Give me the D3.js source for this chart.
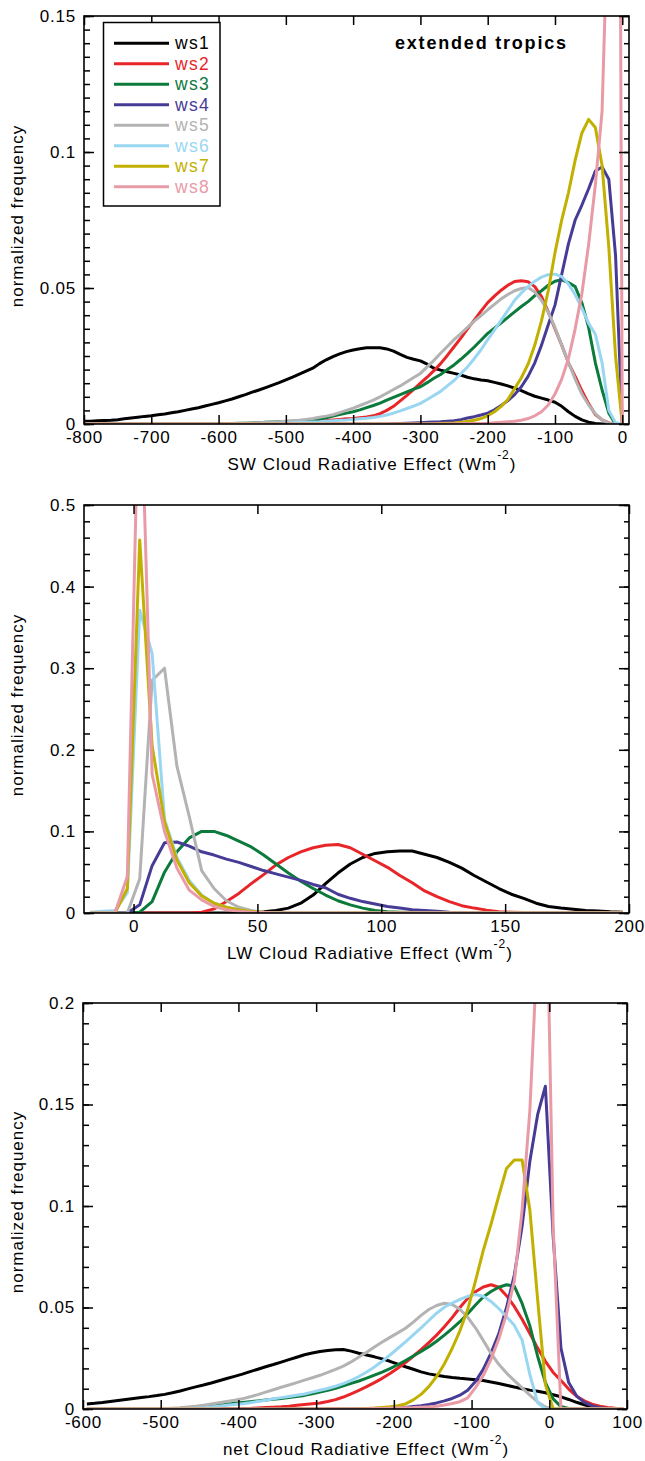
<!DOCTYPE html>
<html>
<head>
<meta charset="UTF-8">
<title>Cloud radiative effect</title>
<script src="https://cdn.jsdelivr.net/npm/d3@7"></script>
<style>
body{margin:0;background:#fff;}
svg text{font-family:"Liberation Sans",Arial,Helvetica,sans-serif;}
</style>
</head>
<body>
<script>
var width=645, height=1461;

var names=["ws1","ws2","ws3","ws4","ws5","ws6","ws7","ws8"];
var colors=["#000000","#e8262a","#0b7a3b","#463c96","#b3b3b3","#99d6f1","#c2b000","#e99aa7"];

// bin centres of each histogram
var swBins=d3.range(-800,1,10);      // -800 .. 0
var lwBins=d3.range(-17.5,200,5);    // -17.5 .. 197.5
var netBins=d3.range(-595,100,10);   // -595 .. 95

var swTicks=[-800,-700,-600,-500,-400,-300,-200,-100,0];
var lwTicks=[0,50,100,150,200];
var netTicks=[-600,-500,-400,-300,-200,-100,0,100];
var swFreqTicks=[0,0.05,0.1,0.15];
var lwFreqTicks=[0,0.1,0.2,0.3,0.4,0.5];
var netFreqTicks=[0,0.05,0.1,0.15,0.2];

// SW cloud radiative effect, one value per 10 Wm-2 bin from -800 to 0
var swWs1=[0.001,0.001,0.0012,0.0013,0.0014,0.0016,0.0019,0.0022,0.0025,0.0028,
0.003,0.0034,0.0037,0.0041,0.0045,0.005,0.0055,0.006,0.0066,0.0072,
0.0078,0.0085,0.0092,0.01,0.0108,0.0117,0.0125,0.0134,0.0143,0.0152,
0.0162,0.0172,0.0183,0.0194,0.0205,0.0222,0.0236,0.0248,0.0258,0.0266,
0.0272,0.0277,0.028,0.028,0.028,0.0276,0.0268,0.0256,0.0245,0.0238,
0.0232,0.022,0.0205,0.0198,0.0192,0.0186,0.018,0.0172,0.0166,0.0162,
0.0159,0.0153,0.0147,0.014,0.0132,0.0123,0.0112,0.0102,0.0095,0.0088,
0.008,0.0065,0.0045,0.0028,0.0015,0.0007,0.0002,0,0,0,
0];
var swWs2=[0,0,0,0,0,0,0,0,0,0,
0,0,0,0,0,0,0,0,0,0,
0,0,0,0,0,0.0002,0.0003,0.0004,0.0004,0.0005,
0.0006,0.0007,0.0008,0.0009,0.001,0.0012,0.0013,0.0015,0.0017,0.0019,
0.002,0.0023,0.0026,0.003,0.0038,0.005,0.0065,0.0085,0.0105,0.0127,
0.015,0.0172,0.0196,0.0222,0.0252,0.0284,0.0316,0.035,0.0382,0.0415,
0.0446,0.047,0.0492,0.051,0.0524,0.0527,0.0523,0.0505,0.0468,0.0412,
0.035,0.029,0.0225,0.0175,0.0122,0.0075,0.0035,0.0015,0.0004,0,
0];
var swWs3=[0,0,0,0,0,0,0,0,0,0,
0,0,0,0,0,0,0,0,0,0,
0,0,0.0002,0.0003,0.0003,0.0004,0.0005,0.0006,0.0007,0.0008,
0.0009,0.001,0.0011,0.0013,0.0015,0.0018,0.0023,0.0029,0.0035,0.004,
0.0045,0.0052,0.006,0.0068,0.0077,0.0088,0.0098,0.0108,0.0118,0.0128,
0.0137,0.0152,0.0168,0.0182,0.02,0.0217,0.0238,0.026,0.0283,0.0308,
0.0333,0.0352,0.0372,0.0392,0.0412,0.0432,0.045,0.0472,0.049,0.051,
0.0525,0.053,0.052,0.0505,0.0445,0.0355,0.0225,0.0125,0.004,0,
0];
var swWs4=[0,0,0,0,0,0,0,0,0,0,
0,0,0,0,0,0,0,0,0,0,
0,0,0,0,0,0,0,0,0,0,
0,0,0,0,0,0,0,0,0,0,
0,0,0,0,0,0,0.0001,0.0002,0.0003,0.0004,
0.0005,0.0006,0.0007,0.0008,0.001,0.0012,0.0016,0.0022,0.0027,0.0033,
0.004,0.0052,0.0068,0.0086,0.0108,0.0137,0.0175,0.0225,0.029,0.0365,
0.0437,0.055,0.0662,0.075,0.0805,0.0865,0.093,0.0945,0.09,0.062,
0];
var swWs5=[0,0,0,0,0,0,0,0,0,0,
0,0,0,0,0,0,0,0,0,0,
0,0,0.0001,0.0002,0.0003,0.0004,0.0005,0.0006,0.0007,0.0008,
0.001,0.0012,0.0014,0.0017,0.002,0.0025,0.0029,0.0034,0.0042,0.005,
0.0058,0.0068,0.0078,0.0088,0.01,0.0113,0.0127,0.014,0.0155,0.0171,
0.0186,0.021,0.0234,0.026,0.0285,0.031,0.0332,0.0355,0.0378,0.0398,
0.042,0.044,0.046,0.0476,0.049,0.0498,0.0502,0.0485,0.0455,0.041,
0.0355,0.029,0.0226,0.0165,0.011,0.007,0.0038,0.0014,0.0003,0,
0];
var swWs6=[0,0,0,0,0,0,0,0,0,0,
0,0,0,0,0,0,0,0,0,0,
0,0,0,0,0,0,0.0001,0.0002,0.0003,0.0003,
0.0004,0.0005,0.0006,0.0006,0.0007,0.0008,0.001,0.0012,0.0014,0.0015,
0.0017,0.0019,0.0021,0.0024,0.0028,0.0033,0.004,0.0048,0.0057,0.0066,
0.0076,0.009,0.0105,0.012,0.014,0.016,0.0185,0.021,0.024,0.0273,
0.031,0.0345,0.0382,0.0418,0.0455,0.0482,0.0505,0.0525,0.054,0.0549,
0.0551,0.0542,0.0515,0.0475,0.0425,0.037,0.033,0.0225,0.005,0.0005,
0];
var swWs7=[0,0,0,0,0,0,0,0,0,0,
0,0,0,0,0,0,0,0,0,0,
0,0,0,0,0,0,0,0,0,0,
0,0,0,0,0,0,0,0,0,0,
0,0,0,0,0,0,0,0,0,0,
0,0,0.0001,0.0002,0.0003,0.0004,0.0006,0.001,0.0014,0.002,
0.003,0.0045,0.0065,0.009,0.013,0.017,0.022,0.029,0.038,0.049,
0.063,0.075,0.085,0.097,0.107,0.112,0.109,0.095,0.065,0.025,
0];
var swWs8=[0,0,0,0,0,0,0,0,0,0,
0,0,0,0,0,0,0,0,0,0,
0,0,0,0,0,0,0,0,0,0,
0,0,0,0,0,0,0,0,0,0,
0,0,0,0,0,0,0,0,0,0,
0,0,0,0,0,0.0001,0.0001,0.0002,0.0002,0.0002,
0.0003,0.0005,0.0006,0.0008,0.001,0.0014,0.002,0.003,0.0045,0.007,
0.011,0.0165,0.024,0.035,0.048,0.066,0.088,0.115,0.2,0.6,
0];

// LW cloud radiative effect, 5 Wm-2 bins centred -17.5 .. 197.5
var lwWs1=[0,0,0,0,0,0,0,0,0,0,
0,0,0.0005,0.001,0.0015,0.003,0.006,0.012,0.022,0.036,
0.049,0.06,0.068,0.073,0.075,0.076,0.076,0.072,0.068,0.062,
0.055,0.046,0.038,0.03,0.023,0.018,0.012,0.008,0.006,0.0045,
0.003,0.0025,0.0015,0.001];
var lwWs2=[0,0,0,0,0,0,0,0,0,0.001,
0.005,0.014,0.024,0.036,0.047,0.059,0.068,0.075,0.08,0.083,
0.084,0.08,0.072,0.064,0.056,0.046,0.037,0.027,0.02,0.014,
0.009,0.006,0.0035,0.0015,0.001,0.0005,0,0,0,0,
0,0,0,0];
var lwWs3=[0,0,0,0,0.001,0.014,0.05,0.075,0.092,0.1,
0.1,0.095,0.088,0.081,0.071,0.06,0.049,0.039,0.03,0.022,
0.015,0.01,0.006,0.003,0.0015,0.001,0.0005,0,0,0,
0,0,0,0,0,0,0,0,0,0,
0,0,0,0];
var lwWs4=[0,0,0,0,0.01,0.058,0.086,0.087,0.082,0.075,
0.071,0.066,0.062,0.057,0.052,0.048,0.044,0.04,0.035,0.031,
0.023,0.018,0.014,0.011,0.008,0.006,0.004,0.003,0.002,0.001,
0.0005,0,0,0,0,0,0,0,0,0,
0,0,0,0];
var lwWs5=[0,0,0,0,0.042,0.285,0.3,0.18,0.118,0.052,
0.03,0.015,0.007,0.003,0.001,0,0,0,0,0,
0,0,0,0,0,0,0,0,0,0,
0,0,0,0,0,0,0,0,0,0,
0,0,0,0];
var lwWs6=[0.001,0.002,0.003,0.025,0.371,0.318,0.115,0.068,0.04,0.022,
0.012,0.007,0.004,0.002,0.001,0.0005,0,0,0,0,
0,0,0,0,0,0,0,0,0,0,
0,0,0,0,0,0,0,0,0,0,
0,0,0,0];
var lwWs7=[0,0,0,0.03,0.457,0.205,0.112,0.065,0.037,0.021,
0.012,0.007,0.004,0.002,0.001,0,0,0,0,0,
0,0,0,0,0,0,0,0,0,0,
0,0,0,0,0,0,0,0,0,0,
0,0,0,0];
var lwWs8=[0,0,0,0.045,0.7,0.17,0.1,0.055,0.028,0.016,
0.008,0.004,0.002,0.001,0.0005,0,0,0,0,0,
0,0,0,0,0,0,0,0,0,0,
0,0,0,0,0,0,0,0,0,0,
0,0,0,0];

// net cloud radiative effect, 10 Wm-2 bins centred -595 .. 95
var netWs1=[0.0025,0.0028,0.0032,0.0037,0.0042,0.0047,0.0052,0.0057,0.0061,0.0066,
0.0072,0.008,0.0089,0.0099,0.0109,0.0118,0.0128,0.0139,0.015,0.0161,
0.0172,0.0184,0.0196,0.0208,0.0219,0.0231,0.0243,0.0255,0.0267,0.0276,
0.0283,0.0288,0.0292,0.0293,0.0285,0.0275,0.0266,0.0257,0.0247,0.0235,
0.0221,0.0208,0.0196,0.0183,0.0173,0.0166,0.016,0.0155,0.0151,0.0148,
0.0144,0.014,0.0133,0.0126,0.0117,0.0108,0.01,0.0093,0.0087,0.008,
0.007,0.006,0.0047,0.0033,0.0021,0.0011,0.0005,0.0002,0.0001,0];
var netWs2=[0,0,0,0,0,0,0,0,0,0,
0,0,0,0,0,0,0,0,0,0,
0.0002,0.0003,0.0005,0.0007,0.0009,0.0011,0.0014,0.0018,0.0022,0.0026,
0.003,0.0037,0.0046,0.0059,0.0075,0.0092,0.011,0.013,0.0151,0.0175,
0.0201,0.0229,0.026,0.0293,0.0327,0.0364,0.0405,0.045,0.05,0.0545,
0.0578,0.0601,0.0612,0.06,0.0558,0.0505,0.0442,0.0372,0.03,0.0235,
0.018,0.014,0.0098,0.0063,0.004,0.0024,0.0014,0.0008,0.0004,0.0002];
var netWs3=[0,0,0,0,0,0,0,0,0,0,
0.0002,0.0003,0.0004,0.0006,0.0008,0.0011,0.0015,0.0019,0.0023,0.0028,
0.0032,0.0036,0.004,0.0044,0.0048,0.0052,0.0056,0.0061,0.0067,0.0075,
0.0084,0.0092,0.0102,0.0114,0.0126,0.0138,0.0152,0.0167,0.0182,0.0199,
0.0218,0.0239,0.0261,0.0283,0.0307,0.0334,0.0364,0.0396,0.043,0.0469,
0.0512,0.0552,0.0579,0.06,0.0612,0.0605,0.052,0.041,0.026,0.013,
0.005,0.0012,0.0003,0,0,0,0,0,0,0];
var netWs4=[0,0,0,0,0,0,0,0,0,0,
0,0,0,0,0,0,0,0,0,0,
0,0,0,0,0,0,0,0,0,0,
0,0,0,0,0,0,0,0.0001,0.0002,0.0003,
0.0005,0.0008,0.0012,0.0016,0.0022,0.003,0.004,0.0052,0.0068,0.0092,
0.0135,0.0195,0.0275,0.037,0.05,0.066,0.09,0.122,0.145,0.159,
0.085,0.03,0.013,0.0065,0.0033,0.0015,0.0006,0.0003,0.0001,0];
var netWs5=[0,0,0,0,0,0,0,0,0,0,
0.0002,0.0004,0.0006,0.001,0.0014,0.0019,0.0025,0.0031,0.0037,0.0043,
0.005,0.006,0.0071,0.0083,0.0095,0.0107,0.0118,0.013,0.0142,0.0154,
0.0166,0.018,0.0195,0.0211,0.0232,0.0256,0.028,0.0305,0.033,0.0353,
0.0375,0.0398,0.0428,0.0461,0.049,0.051,0.0521,0.0515,0.0491,0.0452,
0.04,0.0338,0.0274,0.022,0.0177,0.014,0.0104,0.0068,0.0035,0.001,
0,0,0,0,0,0,0,0,0,0];
var netWs6=[0,0,0,0,0,0,0,0,0,0,
0,0,0.0001,0.0002,0.0004,0.0006,0.001,0.0014,0.0018,0.0022,
0.0026,0.0031,0.0037,0.0043,0.005,0.0056,0.0062,0.0068,0.0074,0.0083,
0.0092,0.0101,0.0112,0.0125,0.0141,0.016,0.0182,0.0207,0.0235,0.0266,
0.0298,0.0331,0.0365,0.04,0.0436,0.0472,0.0501,0.0522,0.054,0.0555,
0.0564,0.0555,0.053,0.0495,0.0455,0.0412,0.034,0.017,0.003,0,
0,0,0,0,0,0,0,0,0,0];
var netWs7=[0,0,0,0,0,0,0,0,0,0,
0,0,0,0,0,0,0,0,0,0,
0,0,0,0,0,0,0,0,0,0,
0,0,0,0,0,0.0001,0.0003,0.0005,0.0008,0.0011,
0.0016,0.0025,0.0045,0.0072,0.011,0.016,0.0222,0.0298,0.0385,0.049,
0.063,0.078,0.091,0.105,0.1185,0.1227,0.1227,0.098,0.054,0.012,
0,0,0,0,0,0,0,0,0,0];
var netWs8=[0,0,0,0,0,0,0,0,0,0,
0,0,0,0,0,0,0,0,0,0,
0,0,0,0,0,0,0,0,0,0,
0,0,0,0,0,0,0.0001,0.0002,0.0003,0.0004,
0.0005,0.0006,0.0007,0.0009,0.0011,0.0014,0.002,0.0027,0.0036,0.0055,
0.0105,0.0165,0.0245,0.0345,0.047,0.063,0.098,0.147,0.23,0.29,
0.09,0,0,0,0,0,0,0,0,0];

var svg=d3.select("body").append("svg")
  .attr("width",width)
  .attr("height",height);

var fmt=function(d){return String(+d.toFixed(3));};

function drawPanel(p){
  var x=d3.scaleLinear().domain(p.xDomain).range([p.left,p.right]);
  var y=d3.scaleLinear().domain(p.yDomain).range([p.bottom,p.top]);

  svg.append("clipPath").attr("id","clip"+p.id)
     .append("rect")
     .attr("x",p.left).attr("y",p.top)
     .attr("width",p.right-p.left).attr("height",p.bottom-p.top);

  var line=d3.line()
    .x(function(d){return x(d[0]);})
    .y(function(d){return y(d[1]);});

  svg.append("g").attr("clip-path","url(#clip"+p.id+")")
     .selectAll("path")
     .data(p.series)
     .enter()
     .append("path")
     .attr("d",function(s){
       return line(p.bins.map(function(b,i){return [b,s[i]];}));
     })
     .attr("fill","none")
     .attr("stroke",function(s,i){return colors[i];})
     .attr("stroke-width",3)
     .attr("stroke-linejoin","round");

  var minor=d3.range(0,p.yDomain[1]+p.yMinor/2,p.yMinor);
  var axes=[
    [d3.axisLeft(y).tickValues(p.yTicks).tickSize(-10).tickPadding(8).tickFormat(fmt),"translate("+p.left+",0)"],
    [d3.axisLeft(y).tickValues(minor).tickSize(-6).tickFormat(""),"translate("+p.left+",0)"],
    [d3.axisRight(y).tickValues(p.yTicks).tickSize(-10).tickFormat(""),"translate("+p.right+",0)"],
    [d3.axisRight(y).tickValues(minor).tickSize(-5).tickFormat(""),"translate("+p.right+",0)"],
    [d3.axisBottom(x).tickValues(p.xTicks).tickSize(-9).tickPadding(7).tickFormat(fmt),"translate(0,"+p.bottom+")"],
    [d3.axisTop(x).tickValues(p.xTicks).tickSize(-9).tickFormat(""),"translate(0,"+p.top+")"]
  ];
  axes.forEach(function(a){
    var g=svg.append("g").attr("transform",a[1]).call(a[0]);
    g.select(".domain").remove();
    g.selectAll("line").attr("stroke","#000").attr("stroke-width",1.5);
    g.selectAll("text")
     .attr("font-family",null)
     .style("font-size","17px")
     .style("letter-spacing","0.8px")
     .attr("fill","#000");
  });

  svg.append("rect")
     .attr("x",p.left).attr("y",p.top)
     .attr("width",p.right-p.left).attr("height",p.bottom-p.top)
     .attr("fill","none").attr("stroke","#000").attr("stroke-width",1.6);

  // axis titles
  svg.append("text")
     .attr("transform","translate(23,"+((p.top+p.bottom)/2-4)+") rotate(-90)")
     .attr("text-anchor","middle")
     .style("font-size","17px").style("letter-spacing","1px")
     .text("normalized frequency");

  var t=svg.append("text")
     .attr("x",p.titleX).attr("y",p.bottom+46)
     .attr("text-anchor","middle")
     .style("font-size","17px").style("letter-spacing","1px");
  t.append("tspan").text(p.title+" Cloud Radiative Effect (Wm");
  t.append("tspan").attr("dy",-11).style("font-size","12px").text("-2");
  t.append("tspan").attr("dy",11).text(")");
}

drawPanel({id:1,left:84,right:629,top:16,bottom:424,
  xDomain:[-800,10],yDomain:[0,0.15],xTicks:swTicks,yTicks:swFreqTicks,yMinor:0.005,
  bins:swBins,series:[swWs1,swWs2,swWs3,swWs4,swWs5,swWs6,swWs7,swWs8],
  title:"SW",titleX:372});
drawPanel({id:2,left:84,right:629,top:505,bottom:913,
  xDomain:[-20,200],yDomain:[0,0.5],xTicks:lwTicks,yTicks:lwFreqTicks,yMinor:0.02,
  bins:lwBins,series:[lwWs1,lwWs2,lwWs3,lwWs4,lwWs5,lwWs6,lwWs7,lwWs8],
  title:"LW",titleX:370});
drawPanel({id:3,left:83,right:627,top:1003,bottom:1409,
  xDomain:[-600,100],yDomain:[0,0.2],xTicks:netTicks,yTicks:netFreqTicks,yMinor:0.01,
  bins:netBins,series:[netWs1,netWs2,netWs3,netWs4,netWs5,netWs6,netWs7,netWs8],
  title:"net",titleX:366});

// legend in the top panel
var legend=svg.append("g");
legend.append("rect")
  .attr("x",103.5).attr("y",22.5).attr("width",116.5).attr("height",183.5)
  .attr("fill","#fff").attr("stroke","#000").attr("stroke-width",1.5);
var item=legend.selectAll(".item")
  .data(names)
  .enter()
  .append("g")
  .attr("transform",function(d,i){return "translate(0,"+(43.3+i*20.5)+")";});
item.append("line")
  .attr("x1",114).attr("x2",169)
  .attr("stroke",function(d,i){return colors[i];})
  .attr("stroke-width",3);
item.append("text")
  .attr("x",175).attr("y",6)
  .attr("fill",function(d,i){return colors[i];})
  .style("font-size","17.5px").style("letter-spacing","1.3px")
  .text(function(d){return d;});

svg.append("text")
  .attr("x",395).attr("y",49)
  .style("font-size","18px").style("font-weight","bold").style("letter-spacing","1.8px")
  .text("extended tropics");
</script>
</body>
</html>
